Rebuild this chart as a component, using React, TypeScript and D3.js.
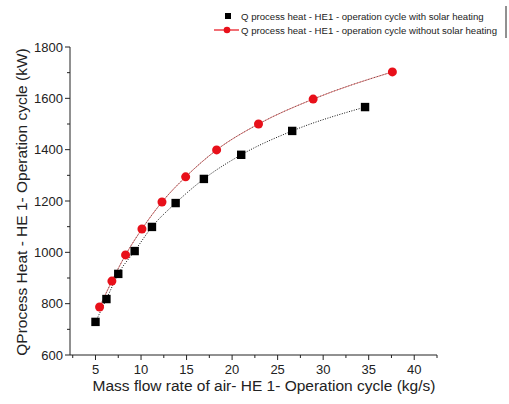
import * as d3 from "d3";

const width = 509;
const height = 404;
const plot = { left: 70, right: 437, top: 47, bottom: 355 };

const flowSolar = [5.0, 6.2, 7.5, 9.3, 11.2, 13.8, 16.9, 21.0, 26.6, 34.6];
const heatSolar = [729, 818, 916, 1005, 1099, 1192, 1286, 1380, 1473, 1566];
const flowNoSolar = [5.45, 6.8, 8.3, 10.1, 12.3, 14.9, 18.3, 22.9, 28.9, 37.6];
const heatNoSolar = [787, 888, 990, 1091, 1196, 1294, 1399, 1500, 1597, 1703];

const xTicks = [5, 10, 15, 20, 25, 30, 35, 40];
const xMinor = [2.5, 7.5, 12.5, 17.5, 22.5, 27.5, 32.5, 37.5, 42.5];
const yTicks = [600, 800, 1000, 1200, 1400, 1600, 1800];
const yMinor = [700, 900, 1100, 1300, 1500, 1700];

const legendLabels = [
  "Q process heat - HE1 - operation cycle with solar heating",
  "Q process heat - HE1 - operation cycle without solar heating",
];

const font = "'Liberation Sans', Arial, sans-serif";

const App = () => {
  const xScale = d3.scaleLinear().domain([2.2, 42.5]).range([plot.left, plot.right]);
  const yScale = d3.scaleLinear().domain([600, 1800]).range([plot.bottom, plot.top]);

  const line = d3
    .line<[number, number]>()
    .x((d) => xScale(d[0]))
    .y((d) => yScale(d[1]))
    .curve(d3.curveMonotoneX);

  const solar = flowSolar.map((x, i) => [x, heatSolar[i]] as [number, number]);
  const noSolar = flowNoSolar.map((x, i) => [x, heatNoSolar[i]] as [number, number]);

  return (
    <svg width={width} height={height} style={{ position: "absolute", left: 0, top: 0 }}>
      <rect width={width} height={height} fill="#fff" />

      {/* axes */}
      <line x1={plot.left} x2={plot.left} y1={plot.top} y2={plot.bottom} stroke="#222" />
      <line x1={plot.left} x2={plot.right} y1={plot.bottom} y2={plot.bottom} stroke="#222" />
      {yTicks.map((t) => (
        <g key={t}>
          <line x1={plot.left - 5} x2={plot.left} y1={yScale(t)} y2={yScale(t)} stroke="#222" />
          <text
            x={plot.left - 7}
            y={yScale(t)}
            dy="0.35em"
            textAnchor="end"
            fontFamily={font}
            fontSize={13}
            fill="#222"
          >
            {t}
          </text>
        </g>
      ))}
      {yMinor.map((t) => (
        <line key={t} x1={plot.left - 3} x2={plot.left} y1={yScale(t)} y2={yScale(t)} stroke="#222" />
      ))}
      {xTicks.map((t) => (
        <g key={t}>
          <line x1={xScale(t)} x2={xScale(t)} y1={plot.bottom} y2={plot.bottom + 5} stroke="#222" />
          <text
            x={xScale(t)}
            y={plot.bottom + 19}
            textAnchor="middle"
            fontFamily={font}
            fontSize={13}
            fill="#222"
          >
            {t}
          </text>
        </g>
      ))}
      {xMinor.map((t) => (
        <line key={t} x1={xScale(t)} x2={xScale(t)} y1={plot.bottom} y2={plot.bottom + 3} stroke="#222" />
      ))}

      <text
        x={264}
        y={391}
        textAnchor="middle"
        fontFamily={font}
        fontSize={15.5}
        fill="#222"
      >
        Mass flow rate of air- HE 1- Operation cycle (kg/s)
      </text>
      <text
        transform={`translate(27, 202) rotate(-90)`}
        textAnchor="middle"
        fontFamily={font}
        fontSize={15.5}
        fill="#222"
      >
        QProcess Heat - HE 1- Operation cycle (kW)
      </text>

      {/* series */}
      <path d={line(noSolar) ?? ""} fill="none" stroke="#e06060" strokeWidth={0.8} />
      <path d={line(noSolar) ?? ""} fill="none" stroke="#444" strokeWidth={0.8} strokeDasharray="1,2" />
      <path d={line(solar) ?? ""} fill="none" stroke="#111" strokeWidth={1} strokeDasharray="1,1.5" />
      {solar.map((d, i) => (
        <rect key={i} x={xScale(d[0]) - 4.2} y={yScale(d[1]) - 4.2} width={8.4} height={8.4} fill="#000" />
      ))}
      {noSolar.map((d, i) => (
        <circle key={i} cx={xScale(d[0])} cy={yScale(d[1])} r={4.5} fill="#e8101a" />
      ))}

      {/* legend */}
      <line x1={506} x2={506} y1={6} y2={38} stroke="#222" />
      <rect x={225} y={13} width={6} height={6} fill="#000" />
      <text x={241} y={19.5} fontFamily={font} fontSize={9.6} fill="#222">
        {legendLabels[0]}
      </text>
      <line x1={214} x2={239} y1={30} y2={30} stroke="#e8101a" strokeWidth={1.2} />
      <circle cx={227} cy={30} r={3.3} fill="#e8101a" />
      <text x={241} y={33.5} fontFamily={font} fontSize={9.6} fill="#222">
        {legendLabels[1]}
      </text>
    </svg>
  );
};

export default App;
